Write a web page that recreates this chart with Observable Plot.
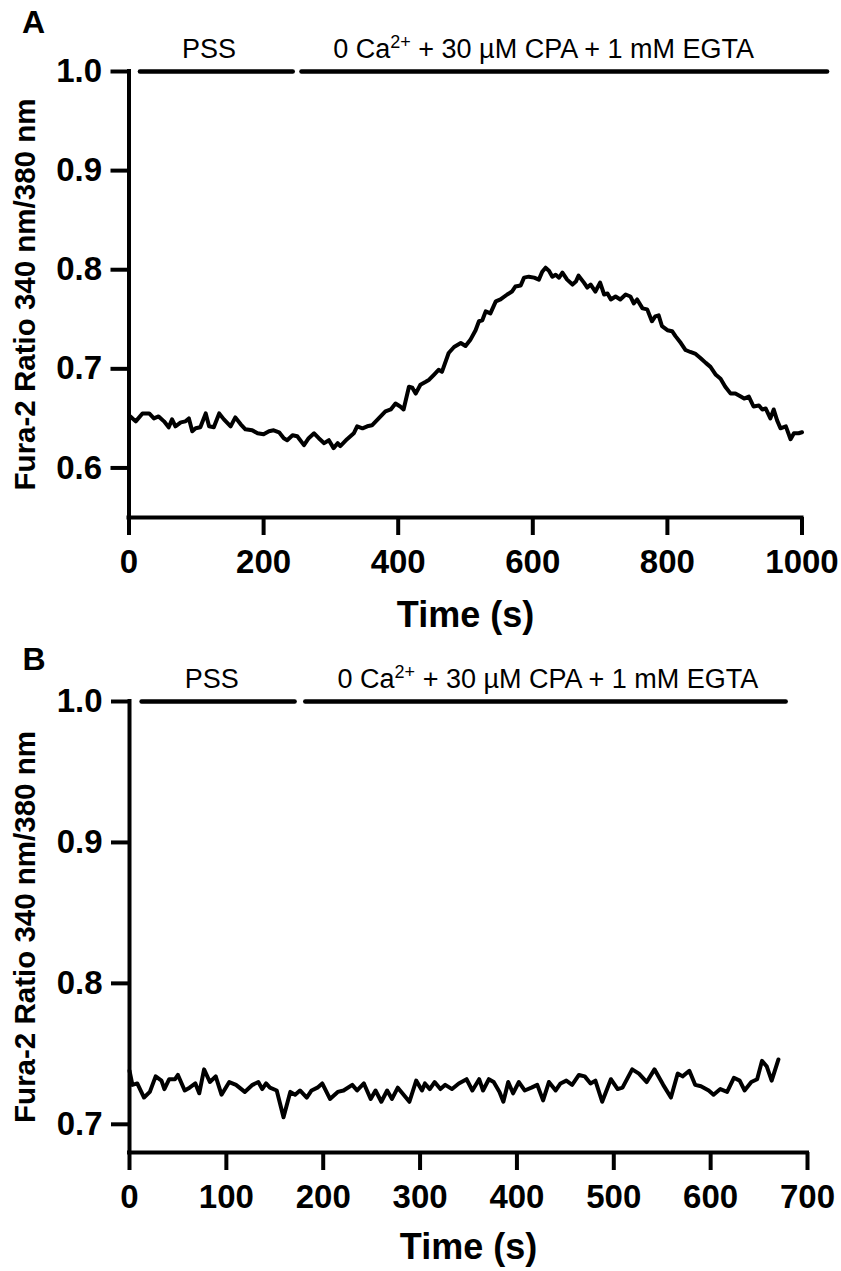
<!DOCTYPE html>
<html>
<head>
<meta charset="utf-8">
<script src="https://cdn.jsdelivr.net/npm/d3@7"></script>
<script src="https://cdn.jsdelivr.net/npm/@observablehq/plot@0.6"></script>
<style>
  html, body { margin: 0; padding: 0; background: #fff; }
  #chart { width: 841px; height: 1271px; }
  #chart svg { display: block; }
</style>
</head>
<body>
<div id="chart"></div>
<script>
// ---------- data ----------
const panelLetters = ["A", "B"];
const yAxisTitle = "Fura-2 Ratio 340 nm/380 nm";
const xAxisTitle = "Time (s)";
const conditionLabels = ["PSS", "0 Ca2+ + 30 µM CPA + 1 mM EGTA"];
const barLevel = 1.0;

// Panel A
const timeA = [2,10,20,30,37,44,52,59,64,69,77,84,89,94,99,106,114,119,126,134,141,151,158,166,173,183,191,200,208,215,223,230,235,243,250,260,267,275,282,290,297,304,310,314,324,334,339,347,354,361,371,381,389,396,403,408,416,421,426,433,441,446,453,460,465,475,483,493,
  500,507,515,520,525,530,537,545,552,562,569,574,582,587,594,602,609,614,619,624,629,634,639,644,651,659,664,668,676,681,686,693,700,706,711,716,723,730,738,745,750,755,763,770,777,782,787,792,800,807,812,820,827,834,842,849,857,864,872,879,886,894,901,909,914,921,928,936,941,946,953,958,963,968,976,983,988,995,1000];
const ratioA = [0.652,0.647,0.655,0.655,0.650,0.652,0.647,0.641,0.649,0.642,0.646,0.647,0.650,0.637,0.640,0.641,0.655,0.642,0.641,0.655,0.649,0.642,0.651,0.644,0.639,0.638,0.635,0.634,0.637,0.638,0.636,0.630,0.628,0.633,0.632,0.623,0.630,0.635,0.630,0.625,0.628,0.620,0.625,0.622,0.629,0.635,0.642,0.640,0.642,0.643,0.650,0.657,0.659,0.665,0.662,0.659,0.682,0.681,0.675,0.684,0.687,0.689,0.694,0.699,0.697,0.716,0.722,0.726,
  0.723,0.729,0.739,0.748,0.749,0.758,0.756,0.768,0.770,0.775,0.778,0.783,0.784,0.792,0.793,0.792,0.790,0.798,0.802,0.799,0.793,0.795,0.792,0.797,0.790,0.785,0.788,0.794,0.787,0.782,0.785,0.778,0.787,0.775,0.776,0.770,0.773,0.770,0.775,0.773,0.766,0.770,0.761,0.760,0.748,0.753,0.754,0.743,0.739,0.738,0.733,0.726,0.719,0.717,0.715,0.711,0.706,0.702,0.694,0.690,0.682,0.675,0.675,0.672,0.670,0.672,0.662,0.663,0.659,0.660,0.650,0.659,0.648,0.640,0.642,0.629,0.635,0.635,0.636];
const xTicksA = [0, 200, 400, 600, 800, 1000];
const yTicksA = [0.6, 0.7, 0.8, 0.9, 1.0];
const xDomainA = [0, 1000];
const yDomainA = [0.55, 1.0];
const barStartA = [17, 257];
const barEndA = [244, 1038];
const labelXA = [119, 616];

// Panel B
const timeB = [0,3,8,15,21,27,33,36,41,47,50,57,62,68,72,77,83,89,95,103,110,119,127,133,137,141,145,152,159,166,171,176,183,188,194,199,207,215,221,230,235,242,249,254,260,266,271,277,283,289,296,302,305,310,315,321,326,333,340,348,354,361,365,371,376,382,386,391,396,402,408,415,421,427,433,440,445,451,457,464,470,476,481,488,497,504,509,519,526,534,542,551,559,566,571,578,584,590,598,603,610,617,624,630,635,642,648,653,658,663,670];
const ratioB = [0.738,0.728,0.729,0.719,0.723,0.734,0.731,0.725,0.732,0.732,0.735,0.724,0.726,0.729,0.722,0.739,0.730,0.734,0.721,0.730,0.728,0.723,0.728,0.730,0.725,0.729,0.726,0.724,0.705,0.723,0.721,0.724,0.719,0.724,0.726,0.729,0.718,0.723,0.724,0.728,0.724,0.729,0.718,0.724,0.716,0.724,0.718,0.726,0.721,0.716,0.731,0.724,0.729,0.725,0.730,0.725,0.728,0.725,0.729,0.732,0.724,0.732,0.724,0.732,0.730,0.723,0.716,0.730,0.722,0.730,0.724,0.726,0.728,0.717,0.730,0.724,0.729,0.731,0.728,0.735,0.734,0.729,0.731,0.716,0.732,0.725,0.726,0.739,0.736,0.730,0.739,0.728,0.719,0.736,0.734,0.738,0.728,0.727,0.724,0.721,0.725,0.723,0.733,0.731,0.724,0.730,0.732,0.745,0.741,0.731,0.746];
const xTicksB = [0, 100, 200, 300, 400, 500, 600, 700];
const yTicksB = [0.7, 0.8, 0.9, 1.0];
const xDomainB = [0, 700];
const yDomainB = [0.68, 1.0];
const barStartB = [13, 182];
const barEndB = [171, 678];
const labelXB = [85, 432];

// ---------- drawing ----------
const FONT = "'Liberation Sans', Arial, Helvetica, sans-serif";

function panel(o) {
  const series = o.times.map((t, i) => ({t, r: o.ratios[i]}));
  const bars = o.barStart.map((s, i) => ({s, e: o.barEnd[i], y: barLevel}));
  const labels = conditionLabels.map((text, i) => ({text, x: o.labelX[i], y: barLevel}));
  const svg = Plot.plot({
    width: 841,
    height: o.height,
    marginTop: o.marginTop,
    marginBottom: o.marginBottom,
    marginLeft: o.marginLeft,
    marginRight: o.marginRight,
    style: {fontFamily: FONT, color: "#000", background: "#fff", overflow: "visible"},
    x: {domain: o.xDomain},
    y: {domain: o.yDomain},
    marks: [
      Plot.axisY({ticks: o.yTicks, tickSize: 18, tickPadding: 9, tickFormat: d3.format(".1f"),
        strokeWidth: 4, fontSize: 33, fontWeight: "bold", label: null}),
      Plot.axisX({ticks: o.xTicks, tickSize: 18, tickPadding: 14, tickFormat: d3.format("d"),
        strokeWidth: 4, fontSize: 33, fontWeight: "bold", label: null}),
      Plot.ruleX([o.xDomain[0]], {y1: o.yDomain[0], y2: o.yDomain[1], strokeWidth: 4, strokeLinecap: "square"}),
      Plot.ruleY([o.yDomain[0]], {x1: o.xDomain[0], x2: o.xDomain[1], strokeWidth: 4, strokeLinecap: "square"}),
      Plot.line(series, {x: "t", y: "r", stroke: "#000", strokeWidth: 4, strokeLinejoin: "round", strokeLinecap: "round"}),
      Plot.ruleY(bars, {x1: "s", x2: "e", y: "y", strokeWidth: 4.5, strokeLinecap: "round"}),
      Plot.text(labels, {x: "x", y: "y", text: "text", dy: -14, lineAnchor: "bottom", fontSize: 27, fill: "#000"}),
      Plot.text([o.letter], {frameAnchor: "top-left", dx: o.letterDx, dy: o.letterDy, textAnchor: "start",
        lineAnchor: "bottom", fontSize: 32, fontWeight: "bold"}),
      Plot.text([yAxisTitle], {frameAnchor: "left", rotate: -90, dx: o.yTitleDx, textAnchor: "middle",
        lineAnchor: "middle", fontSize: 29.5, fontWeight: "bold"}),
      Plot.text([xAxisTitle], {frameAnchor: "bottom", dy: o.xTitleDy, lineAnchor: "bottom",
        fontSize: 36, fontWeight: "bold"})
    ]
  });
  // superscript for Ca2+
  for (const el of svg.querySelectorAll("text")) {
    const s = el.textContent;
    if (s.includes("Ca2+")) {
      const [pre, post] = s.split("Ca2+");
      el.textContent = "";
      const ns = "http://www.w3.org/2000/svg";
      const t1 = document.createElementNS(ns, "tspan"); t1.textContent = pre + "Ca";
      const t2 = document.createElementNS(ns, "tspan"); t2.textContent = "2+";
      t2.setAttribute("font-size", "18"); t2.setAttribute("dy", "-10");
      const t3 = document.createElementNS(ns, "tspan"); t3.textContent = post;
      t3.setAttribute("dy", "10");
      el.append(t1, t2, t3);
    }
  }
  return svg;
}

const chart = document.getElementById("chart");
chart.append(panel({
  letter: panelLetters[0], times: timeA, ratios: ratioA,
  xDomain: xDomainA, yDomain: yDomainA, xTicks: xTicksA, yTicks: yTicksA,
  barStart: barStartA, barEnd: barEndA, labelX: labelXA,
  height: 640, marginTop: 71, marginBottom: 123, marginLeft: 128.5, marginRight: 39.5,
  letterDx: -107, letterDy: -39, yTitleDx: -103.5, xTitleDy: 109
}));
chart.append(panel({
  letter: panelLetters[1], times: timeB, ratios: ratioB,
  xDomain: xDomainB, yDomain: yDomainB, xTicks: xTicksB, yTicks: yTicksB,
  barStart: barStartB, barEnd: barEndB, labelX: labelXB,
  height: 631, marginTop: 61, marginBottom: 119, marginLeft: 129, marginRight: 34,
  letterDx: -107, letterDy: -32, yTitleDx: -104, xTitleDy: 106
}));
</script>
</body>
</html>
